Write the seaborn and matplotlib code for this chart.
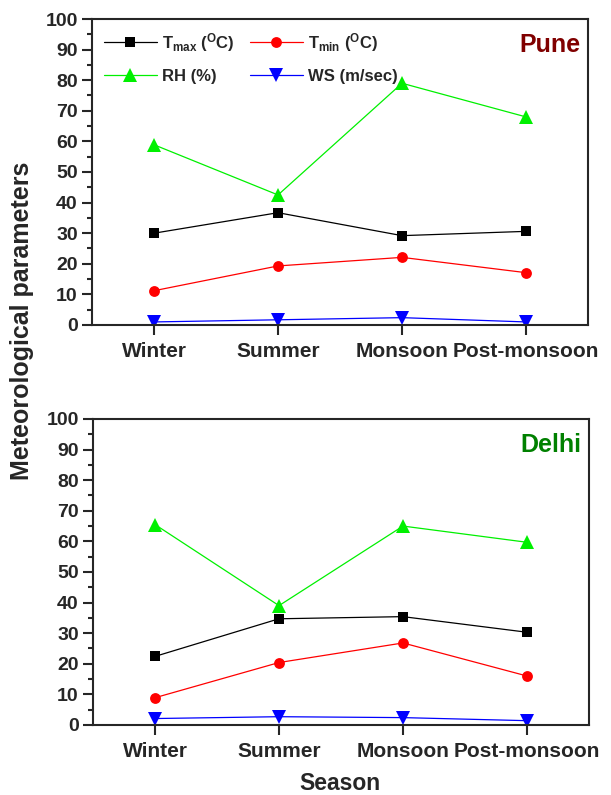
import pandas as pd
import matplotlib
matplotlib.use("Agg")
import matplotlib.pyplot as plt
import seaborn as sns

seasons = ["Winter", "Summer", "Monsoon", "Post-monsoon"]
params = ["Tmax", "Tmin", "RH", "WS"]
labels = {"Tmax": r"T$_\mathbf{max}$ ($^\mathbf{O}$C)",
          "Tmin": r"T$_\mathbf{min}$ ($^\mathbf{O}$C)",
          "RH": "RH (%)", "WS": "WS (m/sec)"}

pune_tmax = [30.0, 36.7, 29.2, 30.6]
pune_tmin = [11.2, 19.3, 22.1, 17.1]
pune_rh = [58.9, 42.5, 79.0, 68.0]
pune_ws = [1.0, 1.7, 2.4, 1.0]

delhi_tmax = [22.4, 34.7, 35.4, 30.3]
delhi_tmin = [8.9, 20.4, 26.8, 16.0]
delhi_rh = [65.5, 39.0, 65.0, 59.7]
delhi_ws = [2.1, 2.7, 2.4, 1.4]

colors = {"Tmax": "black", "Tmin": "red", "RH": "#00f000", "WS": "blue"}
markers = {"Tmax": "s", "Tmin": "o", "RH": "^", "WS": "v"}
# triangles look smaller than squares at the same size
msize = {"s": 7.2, "o": 7.8, "^": 9.5, "v": 9.5}


def make_df(series):
    rows = []
    for p, vals in zip(params, series):
        for s, v in zip(seasons, vals):
            rows.append({"season": s, "param": p, "value": v})
    return pd.DataFrame(rows)


pune = make_df([pune_tmax, pune_tmin, pune_rh, pune_ws])
delhi = make_df([delhi_tmax, delhi_tmin, delhi_rh, delhi_ws])

sns.set_style("ticks")
plt.rcParams["font.family"] = ["Liberation Sans", "DejaVu Sans"]
plt.rcParams["font.weight"] = "bold"
plt.rcParams["mathtext.fontset"] = "custom"
plt.rcParams["mathtext.rm"] = "Liberation Sans:bold"
plt.rcParams["mathtext.bf"] = "Liberation Sans:bold"
plt.rcParams["mathtext.it"] = "Liberation Sans:bold"

fig = plt.figure(figsize=(6.11, 7.95), dpi=100)
ax1 = fig.add_axes([0.1506, 0.5912, 0.8118, 0.3849])
ax2 = fig.add_axes([0.1522, 0.0881, 0.8118, 0.3849])


def fix_markers(lines):
    for ln in lines:
        m = ln.get_marker()
        if m in msize:
            ln.set_markersize(msize[m])


def draw(ax, df, city, city_color, legend):
    sns.lineplot(data=df, x="season", y="value", hue="param", style="param",
                 palette=colors, markers=markers, dashes=False, markersize=7.5,
                 markeredgewidth=0, linewidth=0.9, ax=ax, legend=legend)
    fix_markers(ax.lines)
    ax.set_xlim(-0.5, 3.5)
    ax.set_ylim(0, 100)
    ax.set_yticks(range(0, 101, 10))
    ax.set_yticks(range(5, 100, 10), minor=True)
    ax.tick_params(axis="y", which="major", direction="out", length=7.2, width=1.5,
                   labelsize=14, pad=3)
    ax.tick_params(axis="x", which="major", direction="out", length=7.2, width=1.5,
                   labelsize=15, pad=5)
    ax.tick_params(axis="y", which="minor", direction="out", length=3.6, width=1.5)
    for lab in ax.get_xticklabels() + ax.get_yticklabels():
        lab.set_fontweight("bold")
    for sp in ax.spines.values():
        sp.set_linewidth(1.5)
        sp.set_visible(True)
    ax.set_xlabel("")
    ax.set_ylabel("")
    ax.text(0.985, 0.955, city, transform=ax.transAxes, ha="right", va="top",
            color=city_color, fontsize=18, fontweight="bold")
    if legend:
        h, l = ax.get_legend_handles_labels()
        fix_markers(h)
        hd = dict(zip(l, h))
        order = ["Tmax", "RH", "Tmin", "WS"]
        ax.legend([hd[k] for k in order], [labels[k] for k in order], ncol=2,
                  loc="upper left", frameon=False, handlelength=3.2,
                  labelspacing=0.9, columnspacing=0.9, handletextpad=0.3,
                  borderaxespad=0.3, prop={"weight": "bold", "size": 12})


draw(ax1, pune, "Pune", "#800000", True)
draw(ax2, delhi, "Delhi", "#008000", False)

fig.text(0.036, 0.597, "Meteorological parameters", rotation=90, ha="center",
         va="center", fontsize=18, fontweight="bold")
fig.text(0.556, 0.0065, "Season", ha="center", va="baseline", fontsize=16.5,
         fontweight="bold")

fig.savefig("out.png", dpi=100)
